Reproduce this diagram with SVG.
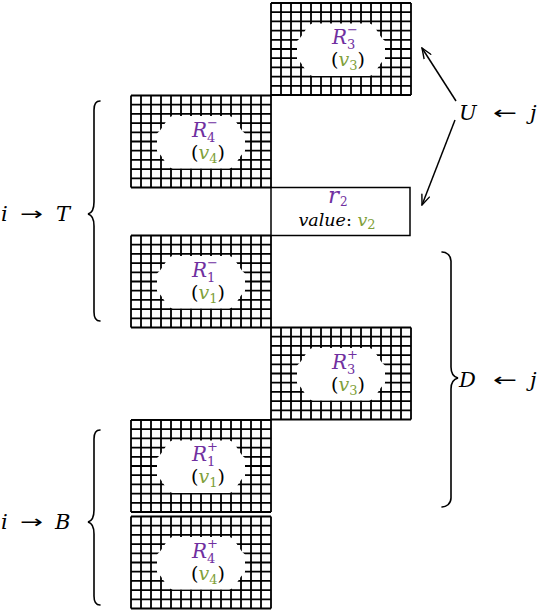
<svg xmlns="http://www.w3.org/2000/svg" xmlns:xlink="http://www.w3.org/1999/xlink" width="545" height="613" viewBox="0 0 545 613">
<style>
.grid{fill:none;stroke:#000;stroke-width:1.8}
.m{font-family:"DejaVu Serif","Liberation Serif",serif;font-style:italic}
.rom{font-family:"DejaVu Serif","Liberation Serif",serif;font-style:normal}
.arr{font-family:"DejaVu Sans","DejaVu Serif",sans-serif;font-style:normal}
.p{fill:#7030a0}
.g{fill:#7f9f3a}
.big{font-size:21px}
.R{font-size:20px}
.s{font-size:13px}
.v{font-size:19px}
.brace{fill:none;stroke:#000;stroke-width:1.6;stroke-linecap:round}
.con{stroke:#000;stroke-width:1.5;fill:none}
</style>
<defs>
<g id="gridbox">
<rect x="0" y="0" width="140" height="92" fill="#fff"/>
<path class="grid" d="M0 0V92M10 0V92M20 0V92M30 0V92M40 0V92M50 0V92M60 0V92M70 0V92M80 0V92M90 0V92M100 0V92M110 0V92M120 0V92M130 0V92M140 0V92M0 0H140M0 9.2H140M0 18.4H140M0 27.6H140M0 36.8H140M0 46H140M0 55.2H140M0 64.4H140M0 73.6H140M0 82.8H140M0 92H140"/>
<path fill="#fff" d="M42 20.5H98C104 20.5 108 34 114 38V56C108 60 104 73 98 73H42C36 73 32 60 26 56V38C32 34 36 20.5 42 20.5Z"/>
</g>
<marker id="ah" viewBox="0 0 12 10" refX="11" refY="5" markerWidth="12" markerHeight="10" markerUnits="userSpaceOnUse" orient="auto">
<path d="M1 1L11 5L1 9" fill="none" stroke="#000" stroke-width="1.4" stroke-linecap="round"/>
</marker>
</defs>

<g id="R3minus">
<use xlink:href="#gridbox" x="271" y="3"/>
<text class="m p R" x="347" y="44" text-anchor="end">R</text>
<text class="rom p s" x="347" y="34">−</text>
<text class="rom p s" x="347" y="49">3</text>
<text class="rom v" x="348" y="66" text-anchor="middle">(<tspan class="m g">v</tspan><tspan class="g s" dy="4">3</tspan><tspan dy="-4">)</tspan></text>
</g>

<g id="R4minus">
<use xlink:href="#gridbox" x="131" y="95.5"/>
<text class="m p R" x="207" y="136.5" text-anchor="end">R</text>
<text class="rom p s" x="207" y="126.5">−</text>
<text class="rom p s" x="207" y="141.5">4</text>
<text class="rom v" x="208" y="158.5" text-anchor="middle">(<tspan class="m g">v</tspan><tspan class="g s" dy="4">4</tspan><tspan dy="-4">)</tspan></text>
</g>

<g id="r2">
<rect x="271" y="187.5" width="139" height="48" fill="#fff" stroke="#000" stroke-width="1.5"/>
<text class="m p" x="339" y="203" font-size="23" text-anchor="end">r</text>
<text class="rom p" x="340" y="205.5" font-size="12">2</text>
<text class="m" x="337" y="226" font-size="17.5" text-anchor="middle">value<tspan class="rom">: </tspan><tspan class="g">v</tspan><tspan class="rom g s" dy="3">2</tspan></text>
</g>

<g id="R1minus">
<use xlink:href="#gridbox" x="131" y="235.5"/>
<text class="m p R" x="207" y="276.5" text-anchor="end">R</text>
<text class="rom p s" x="207" y="266.5">−</text>
<text class="rom p s" x="207" y="281.5">1</text>
<text class="rom v" x="208" y="298.5" text-anchor="middle">(<tspan class="m g">v</tspan><tspan class="g s" dy="4">1</tspan><tspan dy="-4">)</tspan></text>
</g>

<g id="R3plus">
<use xlink:href="#gridbox" x="271" y="327.5"/>
<text class="m p R" x="347" y="368.5" text-anchor="end">R</text>
<text class="rom p s" x="347" y="358.5">+</text>
<text class="rom p s" x="347" y="373.5">3</text>
<text class="rom v" x="348" y="390.5" text-anchor="middle">(<tspan class="m g">v</tspan><tspan class="g s" dy="4">3</tspan><tspan dy="-4">)</tspan></text>
</g>

<g id="R1plus">
<use xlink:href="#gridbox" x="131" y="420"/>
<text class="m p R" x="207" y="461" text-anchor="end">R</text>
<text class="rom p s" x="207" y="451">+</text>
<text class="rom p s" x="207" y="466">1</text>
<text class="rom v" x="208" y="483" text-anchor="middle">(<tspan class="m g">v</tspan><tspan class="g s" dy="4">1</tspan><tspan dy="-4">)</tspan></text>
</g>

<g id="R4plus">
<use xlink:href="#gridbox" x="131" y="516.5"/>
<text class="m p R" x="207" y="557.5" text-anchor="end">R</text>
<text class="rom p s" x="207" y="547.5">+</text>
<text class="rom p s" x="207" y="562.5">4</text>
<text class="rom v" x="208" y="579.5" text-anchor="middle">(<tspan class="m g">v</tspan><tspan class="g s" dy="4">4</tspan><tspan dy="-4">)</tspan></text>
</g>

<g id="labelT">
<text class="m big" x="1" y="221">i</text>
<text class="arr" x="20" y="220" font-size="18" textLength="23" lengthAdjust="spacingAndGlyphs">→</text>
<text class="m big" x="56" y="221">T</text>
<path class="brace" d="M100 101C96 101 94 104 94 110V202C94 209 92 213 88 214C92 215 94 219 94 226V312C94 318 96 321 100 321"/>
</g>

<g id="labelB">
<text class="m big" x="1" y="529">i</text>
<text class="arr" x="20" y="528" font-size="18" textLength="23" lengthAdjust="spacingAndGlyphs">→</text>
<text class="m big" x="55" y="529">B</text>
<path class="brace" d="M100 430C96 430 94 433 94 439V510C94 517 92 521 88 522C92 523 94 527 94 534V596C94 602 96 605 100 605"/>
</g>

<g id="labelU">
<text class="m big" x="459" y="120">U</text>
<text class="arr" x="493" y="119" font-size="18" textLength="24" lengthAdjust="spacingAndGlyphs">←</text>
<text class="m big" x="530" y="120">j</text>
</g>

<g id="labelD">
<text class="m big" x="459" y="387">D</text>
<text class="arr" x="493" y="386" font-size="18" textLength="24" lengthAdjust="spacingAndGlyphs">←</text>
<text class="m big" x="530" y="387">j</text>
<path class="brace" d="M442 252C446 252 451 255 451 261V367C451 374 454 377 458 378C454 379 451 382 451 389V498C451 504 446 507 442 507"/>
</g>

<g id="connectors">
<line class="con" x1="456" y1="101" x2="422" y2="48" marker-end="url(#ah)"/>
<line class="con" x1="455" y1="120" x2="422" y2="205" marker-end="url(#ah)"/>
</g>
</svg>
